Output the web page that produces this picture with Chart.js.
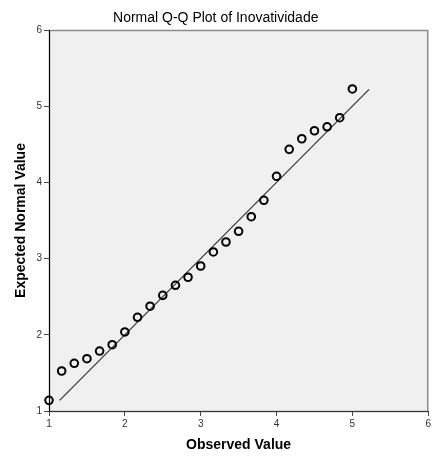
<!DOCTYPE html>
<html>
<head>
<meta charset="utf-8">
<script src="https://cdn.jsdelivr.net/npm/chart.js@4"></script>
<style>
  html, body { margin: 0; padding: 0; background: #fff; overflow: hidden; }
  #wrap { width: 433px; height: 459px; }
</style>
</head>
<body>
<div id="wrap"><canvas id="qq"></canvas></div>
<script>
// Valores observados (eixo X) e valores normais esperados (eixo Y)
const observedValues = [1, 1.167, 1.333, 1.5, 1.667, 1.833, 2, 2.167, 2.333, 2.5, 2.667, 2.833, 3,
  3.167, 3.333, 3.5, 3.667, 3.833, 4, 4.167, 4.333, 4.5, 4.667, 4.833, 5];
const expectedValues = [1.14, 1.525, 1.626, 1.686, 1.787, 1.87, 2.037, 2.23, 2.375, 2.518, 2.65, 2.755, 2.903,
  3.087, 3.218, 3.358, 3.55, 3.765, 4.08, 4.434, 4.573, 4.678, 4.73, 4.849, 5.226];

// Reta de referência normal
const lineX = [1.14, 5.22];
const lineY = [1.14, 5.22];

const axisTicks = [1, 2, 3, 4, 5, 6];

const fonte = "'Liberation Sans', Arial, sans-serif";

// Fundo cinza e moldura da área do gráfico
const fundoArea = {
  id: "fundoArea",
  beforeDraw(chart) {
    const { ctx, chartArea: a } = chart;
    ctx.save();
    ctx.fillStyle = "#f0f0f0";
    ctx.fillRect(a.left, a.top, a.right - a.left, a.bottom - a.top);
    ctx.strokeStyle = "#8c8c8c";
    ctx.lineWidth = 1.5;
    ctx.strokeRect(a.left + 0.5, a.top + 0.5, a.right - a.left - 1, a.bottom - a.top);
    ctx.restore();
  },
};

const ctx = document.getElementById("qq").getContext("2d");
new Chart(ctx, {
  type: "scatter",
  data: {
    datasets: [
      {
        label: "Observado",
        data: observedValues.map((x, i) => ({ x: x, y: expectedValues[i] })),
        pointRadius: 3.8,
        pointBorderWidth: 2,
        borderColor: "#000",
        backgroundColor: "rgba(0,0,0,0)",
        clip: false,
        order: 1,
      },
      {
        type: "line",
        label: "Normal",
        data: lineX.map((x, i) => ({ x: x, y: lineY[i] })),
        borderColor: "#333",
        borderWidth: 1.2,
        pointRadius: 0,
        fill: false,
        order: 2,
      },
    ],
  },
  options: {
    responsive: true,
    maintainAspectRatio: false,
    animation: false,
    layout: { autoPadding: false, padding: { left: 0, right: 1.5, top: 0, bottom: 0 } },
    plugins: {
      legend: { display: false },
      tooltip: { enabled: false },
      title: {
        display: true,
        text: "Normal Q-Q Plot of Inovatividade",
        color: "#000",
        font: { family: fonte, size: 14, weight: "normal", lineHeight: 1.2 },
        padding: { top: 10, bottom: 3.2 },
      },
    },
    scales: {
      x: {
        type: "linear",
        min: 1,
        max: 6,
        afterFit: (s) => { s.height = 48; },
        afterBuildTicks: (s) => { s.ticks = axisTicks.map((v) => ({ value: v })); },
        ticks: { color: "#333", padding: 2, font: { family: fonte, size: 10 } },
        grid: { drawOnChartArea: false, tickLength: 5, color: "#444" },
        border: { color: "#333", width: 1 },
        title: {
          display: true,
          text: "Observed Value",
          color: "#000",
          font: { family: fonte, size: 14, weight: "bold" },
          padding: { top: 0, bottom: 5 },
        },
      },
      y: {
        type: "linear",
        min: 1,
        max: 6,
        afterFit: (s) => { s.width = 49; },
        afterBuildTicks: (s) => { s.ticks = axisTicks.map((v) => ({ value: v })); },
        ticks: { color: "#333", padding: 2, font: { family: fonte, size: 10 } },
        grid: { drawOnChartArea: false, tickLength: 5, color: "#444" },
        border: { color: "#000", width: 1 },
        title: {
          display: true,
          text: "Expected Normal Value",
          color: "#000",
          font: { family: fonte, size: 14, weight: "bold" },
          padding: { top: 13, bottom: 13 },
        },
      },
    },
  },
  plugins: [fundoArea],
});
</script>
</body>
</html>
